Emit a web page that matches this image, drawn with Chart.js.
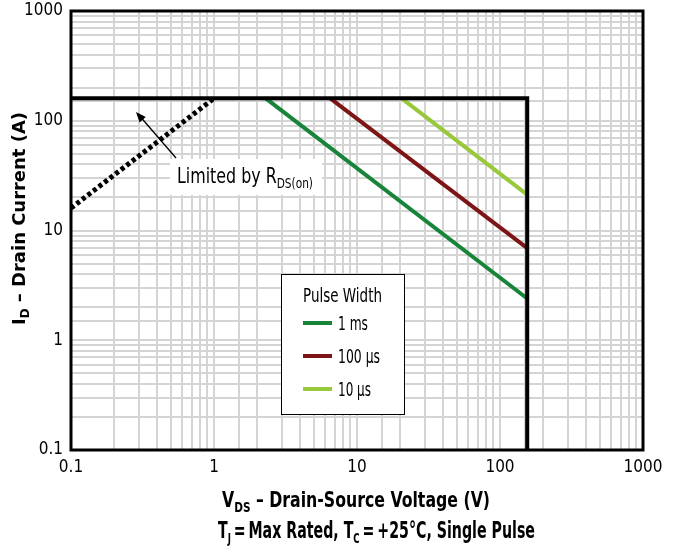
<!DOCTYPE html>
<html>
<head>
<meta charset="utf-8">
<script src="https://cdn.jsdelivr.net/npm/chart.js@4"></script>
<style>
  html, body { margin: 0; padding: 0; background: #fff; }
  #wrap { width: 673px; height: 554px; }
</style>
</head>
<body>
<div id="wrap"><canvas id="soa" width="673" height="554"></canvas></div>
<script>
// Safe operating area data
const limitVds = [0.1, 155, 155];
const limitId = [160, 160, 0.1];
const rdsVds = [0.1, 1];
const rdsId = [16, 160];
const pulseLabels = ['1 ms', '100 µs', '10 µs'];
const pulseVds = [[2.3, 155], [6.5, 155], [20.5, 155]];
const pulseId = [[160, 2.4], [160, 6.9], [160, 21.2]];
const decadeTicks = [0.1, 1, 10, 100, 1000];

const pulseColors = ['#17843a', '#7d1416', '#98c93c'];
const FONT = '"DejaVu Sans Condensed", "Liberation Sans Narrow", sans-serif';

function pts(xs, ys) {
    return xs.map((x, i) => ({ x: x, y: ys[i] }));
}

const datasets = [
    { label: 'limit', data: pts(limitVds, limitId), borderColor: '#000', borderWidth: 4 },
    { label: 'rds', data: pts(rdsVds, rdsId), borderColor: '#000', borderWidth: 5, borderDash: [4, 3] },
];
pulseLabels.forEach((lab, i) => {
    datasets.push({ label: lab, pulse: true, data: pts(pulseVds[i], pulseId[i]), borderColor: pulseColors[i], borderWidth: 4 });
});

function decadeLabel(v) {
    const e = Math.log10(v);
    if (Math.abs(e - Math.round(e)) > 1e-6) return '';
    const d = decadeTicks.find(t => Math.abs(t - v) / t < 1e-6);
    return d === undefined ? '' : String(d);
}

// text made of parts (some are subscripts), squeezed to a given width
function richWidth(ctx, parts) {
    let w = 0;
    parts.forEach(p => { ctx.font = p.font; w += ctx.measureText(p.t).width; });
    return w;
}
function drawRich(ctx, parts, x, y, width) {
    const sx = width / richWidth(ctx, parts);
    ctx.save();
    ctx.translate(x, y);
    ctx.scale(sx, 1);
    let cx = 0;
    parts.forEach(p => {
        ctx.font = p.font;
        ctx.fillText(p.t, cx, p.dy || 0);
        cx += ctx.measureText(p.t).width;
    });
    ctx.restore();
}

const big = 'bold 21px ' + FONT;
const bigSub = 'bold 14px ' + FONT;
const big2 = 'bold 23px ' + FONT;
const big2Sub = 'bold 14px ' + FONT;

const extras = {
    id: 'extras',
    afterDatasetsDraw(chart) {
        const ctx = chart.ctx;
        const a = chart.chartArea;
        ctx.save();

        // frame
        ctx.strokeStyle = '#000';
        ctx.lineWidth = 3;
        ctx.strokeRect(a.left, a.top, a.right - a.left, a.bottom - a.top);

        // annotation
        ctx.fillStyle = '#fff';
        ctx.fillRect(170, 159, 152, 36);
        ctx.fillStyle = '#000';
        ctx.textBaseline = 'alphabetic';
        ctx.textAlign = 'left';
        drawRich(ctx, [
            { t: 'Limited by R', font: '21px ' + FONT },
            { t: 'DS(on)', font: '14px ' + FONT, dy: 5 }
        ], 177, 183, 136);
        // arrow
        ctx.strokeStyle = '#000';
        ctx.lineWidth = 1.3;
        ctx.beginPath();
        ctx.moveTo(176, 158);
        ctx.lineTo(138, 114);
        ctx.stroke();
        const ang = Math.atan2(114 - 158, 138 - 176);
        ctx.beginPath();
        ctx.moveTo(136, 112);
        ctx.lineTo(136 - 11 * Math.cos(ang - 0.38), 112 - 11 * Math.sin(ang - 0.38));
        ctx.lineTo(136 - 11 * Math.cos(ang + 0.38), 112 - 11 * Math.sin(ang + 0.38));
        ctx.closePath();
        ctx.fill();

        // legend
        ctx.fillStyle = '#fff';
        ctx.fillRect(281, 274, 123, 140);
        ctx.strokeStyle = '#000';
        ctx.lineWidth = 1;
        ctx.strokeRect(281.5, 274.5, 123, 140);
        ctx.fillStyle = '#000';
        ctx.textBaseline = 'alphabetic';
        drawRich(ctx, [{ t: 'Pulse Width', font: '19px ' + FONT }], 303, 302, 79);
        const rows = [323, 356, 389];
        const widths = [30, 42, 33];
        chart.data.datasets.filter(d => d.pulse).forEach((d, i) => {
            ctx.strokeStyle = d.borderColor;
            ctx.lineWidth = 4;
            ctx.beginPath();
            ctx.moveTo(303, rows[i]);
            ctx.lineTo(332, rows[i]);
            ctx.stroke();
            ctx.fillStyle = '#000';
            drawRich(ctx, [{ t: d.label, font: '19px ' + FONT }], 338, rows[i] + 7, widths[i]);
        });

        // axis titles
        ctx.fillStyle = '#000';
        drawRich(ctx, [
            { t: 'V', font: big },
            { t: 'DS', font: bigSub, dy: 5 },
            { t: ' \u2013 Drain-Source Voltage (V)', font: big }
        ], 222, 507, 268);
        drawRich(ctx, [
            { t: 'T', font: big2 },
            { t: 'J', font: big2Sub, dy: 5 },
            { t: '\u2009=\u2009Max Rated, T', font: big2 },
            { t: 'C', font: big2Sub, dy: 5 },
            { t: '\u2009=\u2009+25\u00b0C, Single Pulse', font: big2 }
        ], 218, 538, 317);

        ctx.translate(25, 325);
        ctx.rotate(-Math.PI / 2);
        drawRich(ctx, [
            { t: 'I', font: 'bold 18px ' + FONT },
            { t: 'D', font: 'bold 12px ' + FONT, dy: 4 },
            { t: ' \u2013 Drain Current (A)', font: 'bold 18px ' + FONT }
        ], 0, 0, 213);
        ctx.restore();
    }
};

const ctx = document.getElementById('soa').getContext('2d');
new Chart(ctx, {
    type: 'line',
    data: { datasets: datasets },
    plugins: [extras],
    options: {
        responsive: false,
        animation: false,
        layout: { padding: { top: 11, right: 30, left: 0, bottom: 0 } },
        elements: { point: { radius: 0 }, line: { tension: 0, borderCapStyle: 'butt', borderJoinStyle: 'miter' } },
        plugins: { legend: { display: false }, tooltip: { enabled: false } },
        scales: {
            x: {
                type: 'logarithmic',
                min: 0.1,
                max: 1000,
                border: { display: false },
                grid: { color: '#d4d4d4', lineWidth: 2, drawTicks: false },
                ticks: { autoSkip: false, maxRotation: 0, padding: 7, color: '#000', font: { family: FONT, size: 17 }, callback: decadeLabel },
                afterFit: (s) => { s.height = 104; s.paddingLeft = 0; s.paddingRight = 0; }
            },
            y: {
                type: 'logarithmic',
                min: 0.1,
                max: 1000,
                border: { display: false },
                grid: { color: '#d4d4d4', lineWidth: 2, drawTicks: false },
                ticks: { autoSkip: false, padding: 8, color: '#000', font: { family: FONT, size: 17 }, callback: decadeLabel },
                afterFit: (s) => { s.width = 71; s.paddingTop = 0; s.paddingBottom = 0; }
            }
        }
    }
});
</script>
</body>
</html>
